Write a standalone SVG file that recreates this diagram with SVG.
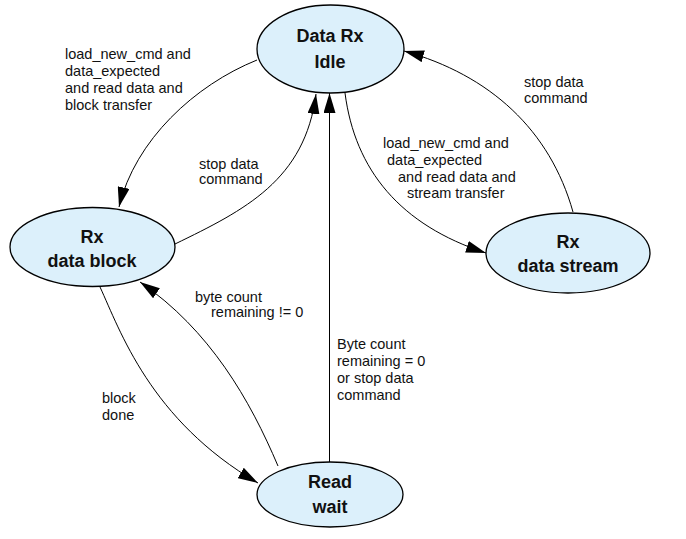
<svg xmlns="http://www.w3.org/2000/svg" width="686" height="539" viewBox="0 0 686 539">
<style>
.node ellipse{fill:#dcf0fb;stroke:#000;stroke-width:1.3}
.node text{font-family:"Liberation Sans",Arial,sans-serif;font-weight:bold;font-size:18px;fill:#111;text-anchor:middle}
.edges path{fill:none;stroke:#000;stroke-width:1}
.lbl{font-family:"Liberation Sans",Arial,sans-serif;font-size:14.5px;fill:#111}
</style>
<defs>
<marker id="arr" markerUnits="userSpaceOnUse" markerWidth="20" markerHeight="12" refX="20" refY="6" orient="auto">
<path d="M0,0 L20,6 L0,12 z" fill="#000"/>
</marker>
</defs>
<rect width="686" height="539" fill="#fff"/>
<g class="edges">
<path d="M257,60 C195,85 135,140 119,207" marker-end="url(#arr)"/>
<path d="M175,244 C245,210 305,180 316,94" marker-end="url(#arr)"/>
<path d="M329.5,462 L329.5,93" marker-end="url(#arr)"/>
<path d="M345,93 C355,170 400,225 486,253" marker-end="url(#arr)"/>
<path d="M573,212 C550,130 490,75 404,51" marker-end="url(#arr)"/>
<path d="M100,287 C120,330 150,420 258,483" marker-end="url(#arr)"/>
<path d="M278,466 C250,400 210,330 140,282" marker-end="url(#arr)"/>
</g>
<g id="idle" class="node">
<ellipse cx="330.5" cy="49" rx="73.5" ry="44"/>
<text x="330" y="42">Data Rx</text>
<text x="330" y="68">Idle</text>
</g>
<g id="block" class="node">
<ellipse cx="92.5" cy="247" rx="82.5" ry="39.5"/>
<text x="92" y="243">Rx</text>
<text x="92" y="267">data block</text>
</g>
<g id="stream" class="node">
<ellipse cx="568" cy="253" rx="82" ry="40"/>
<text x="568" y="248">Rx</text>
<text x="568" y="272">data stream</text>
</g>
<g id="readwait" class="node">
<ellipse cx="330" cy="494.5" rx="73" ry="32.5"/>
<text x="330" y="488">Read</text>
<text x="330" y="513">wait</text>
</g>
<g id="labels" class="lbl">
<text x="65" y="59">load_new_cmd and</text>
<text x="65" y="76">data_expected</text>
<text x="65" y="93">and read data and</text>
<text x="65" y="110">block transfer</text>
<text x="199" y="169">stop data</text>
<text x="199" y="184">command</text>
<text x="383" y="148">load_new_cmd and</text>
<text x="387" y="165">data_expected</text>
<text x="398" y="182">and read data and</text>
<text x="407" y="198">stream transfer</text>
<text x="524" y="87">stop data</text>
<text x="524" y="103">command</text>
<text x="195" y="302">byte count</text>
<text x="211" y="317">remaining != 0</text>
<text x="102" y="403">block</text>
<text x="102" y="420">done</text>
<text x="337" y="349">Byte count</text>
<text x="337" y="366">remaining = 0</text>
<text x="337" y="383">or stop data</text>
<text x="337" y="400">command</text>
</g>
</svg>
